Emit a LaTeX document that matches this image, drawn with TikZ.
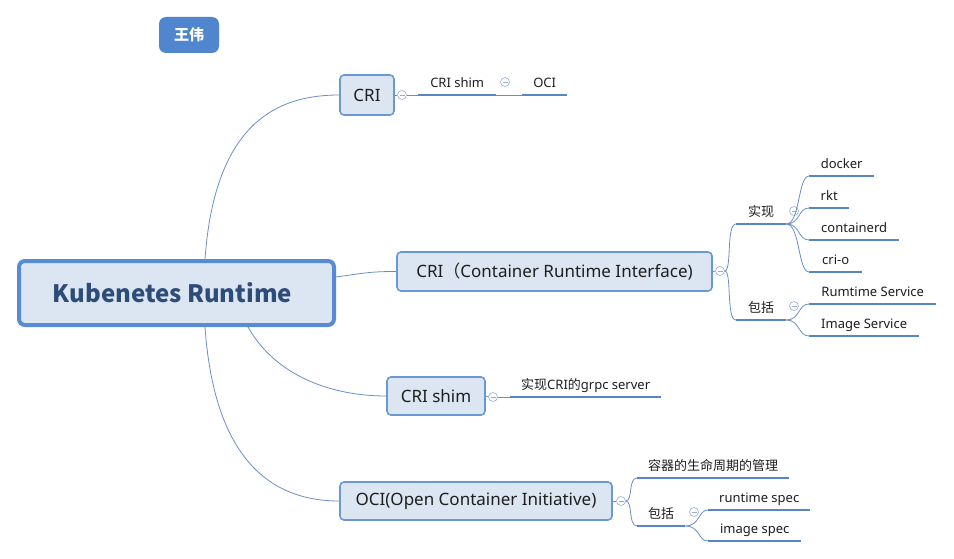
\documentclass[tikz,border=0pt]{standalone}
\usepackage{fontspec}
\setmainfont{Noto Sans}
\newfontfamily\cjk{Noto Sans CJK SC}
\definecolor{lineblue}{RGB}{105,143,200}
\definecolor{ulblue}{RGB}{88,134,196}
\definecolor{boxfill}{RGB}{220,230,242}
\definecolor{boxdraw}{RGB}{106,152,210}
\definecolor{rootdraw}{RGB}{87,140,212}
\definecolor{roottext}{RGB}{46,76,120}
\definecolor{tagblue}{RGB}{79,134,206}
\definecolor{circ}{RGB}{150,175,210}
\definecolor{txt}{RGB}{30,30,30}
\begin{document}
\begin{tikzpicture}[x=1pt,y=-1pt,
  br/.style={draw=lineblue, line width=0.8pt},
  uline/.style={draw=ulblue, line width=2.8pt},
  box/.style={draw=boxdraw, line width=1.6pt, fill=boxfill, rounded corners=4pt,
    text=txt, font=\fontsize{17}{20}\selectfont, inner sep=0},
  rootbox/.style={draw=rootdraw, line width=4pt, fill=boxfill, rounded corners=6pt,
    text=roottext, font=\fontsize{24}{28}\selectfont\cjk\bfseries, inner sep=0},
  tagbox/.style={fill=tagblue, rounded corners=7pt, text=white,
    font=\fontsize{15}{18}\selectfont\cjk\bfseries, inner sep=0},
  leaf/.style={anchor=south west, inner xsep=0, inner ysep=4.5pt, text height=10pt,
    text depth=3pt, text=txt, font=\fontsize{13}{15}\selectfont,
    append after command={(\tikzlastnode.south west) edge[uline] (\tikzlastnode.south east)}},
  minus/.style={circle, draw=circ, fill=white, line width=0.6pt, minimum size=9pt, inner sep=0,
    path picture={\draw[circ, line width=0.7pt]
      ([xshift=-2.5pt]path picture bounding box.center) -- ([xshift=2.5pt]path picture bounding box.center);}}
]
\fill[white] (0,0) rectangle (954,559);
\useasboundingbox (0,0) rectangle (954,559);

% main nodes
\node[tagbox, minimum width=60pt, minimum height=36pt] (tag) at (189,35) {王伟};
\node[rootbox, minimum width=315pt, minimum height=64pt] (root) at (176.5,293) {\hspace*{-8pt}Kubenetes Runtime};
\node[box, minimum width=54pt, minimum height=40pt] (cri) at (367,95) {CRI};
\node[box, minimum width=315pt, minimum height=39pt] (crii) at (554.5,271.5) {CRI{\cjk （}Container Runtime Interface)};
\node[box, minimum width=98pt, minimum height=38pt] (shim) at (436,396) {CRI shim};
\node[box, minimum width=272pt, minimum height=38pt] (oci) at (476,501) {OCI(Open Container Initiative)};

% leaves
\node[leaf, minimum width=78pt] (lshim) at (418,95) {CRI shim};
\node[leaf, minimum width=45pt] (loci) at (522,95) {OCI};
\node[leaf, minimum width=50pt] (sx) at (736,224) {\cjk 实现};
\node[leaf, minimum width=50pt] (bk) at (736,320) {\cjk 包括};
\node[leaf, minimum width=65pt] (docker) at (809,176) {docker};
\node[leaf, minimum width=40pt] (rkt) at (809,208) {rkt};
\node[leaf, minimum width=90pt] (ctd) at (809,240) {containerd};
\node[leaf, minimum width=53pt] (crio) at (809,272) {cri-o};
\node[leaf, minimum width=127pt] (rum) at (809,304) {Rumtime Service};
\node[leaf, minimum width=110pt] (img) at (809,336) {Image Service};
\node[leaf, minimum width=151pt] (grpc) at (510,397) {{\cjk 实现}CRI{\cjk 的}grpc server};
\node[leaf, minimum width=152pt] (life) at (637,478) {\cjk 容器的生命周期的管理};
\node[leaf, minimum width=48pt] (bk2) at (637,526) {\cjk 包括};
\node[leaf, minimum width=102pt] (rs) at (708,510) {runtime spec};
\node[leaf, minimum width=93pt] (is) at (708,541) {image spec};

% collapse circles
\node[minus] (c1) at (402,95) {};
\node[minus] (c1b) at (505,82) {};
\node[minus] (c2) at (720,271) {};
\node[minus] (c3) at (493,397) {};
\node[minus] (c4) at (621,501) {};
\node[minus] (csx) at (794,211) {};
\node[minus] (cbk) at (794,306) {};
\node[minus] (cbk2) at (694,512) {};

% connectors from root
\draw[br] ([xshift=28.5pt]root.north) .. controls (215,120) and (280,95) .. (cri.west);
\draw[br] ([yshift=16pt]root.east) .. controls (365,273) and (370,271.5) .. (crii.west);
\draw[br] ([xshift=71.5pt]root.south) .. controls (275,375) and (330,396) .. (shim.west);
\draw[br] ([xshift=28.5pt]root.south) .. controls (215,470) and (280,501) .. (oci.west);

% CRI
\draw[br] (cri.east) -- (c1.west);
\draw[br] (c1.east) -- (lshim.south west);
\draw[br] (lshim.south east) -- (loci.south west);

% CRI interface
\draw[br] (crii.east) -- (c2.west);
\draw[br] (c2.east) .. controls (732,271) and (726,224) .. (sx.south west);
\draw[br] (c2.east) .. controls (732,271) and (726,320) .. (bk.south west);
\draw[br] (sx.south east) .. controls (800,224) and (798,176) .. (docker.south west);
\draw[br] (sx.south east) .. controls (800,224) and (798,208) .. (rkt.south west);
\draw[br] (sx.south east) .. controls (800,224) and (798,240) .. (ctd.south west);
\draw[br] (sx.south east) .. controls (800,224) and (798,272) .. (crio.south west);
\draw[br] (bk.south east) .. controls (800,320) and (798,304) .. (rum.south west);
\draw[br] (bk.south east) .. controls (800,320) and (798,336) .. (img.south west);

% CRI shim
\draw[br] (shim.east) -- (c3.west);
\draw[br] (c3.east) -- (grpc.south west);

% OCI
\draw[br] (oci.east) -- (c4.west);
\draw[br] (c4.east) .. controls (633,501) and (628,478) .. (life.south west);
\draw[br] (c4.east) .. controls (633,501) and (628,526) .. (bk2.south west);
\draw[br] (bk2.south east) .. controls (700,526) and (698,510) .. (rs.south west);
\draw[br] (bk2.south east) .. controls (700,526) and (698,541) .. (is.south west);
\end{tikzpicture}
\end{document}
